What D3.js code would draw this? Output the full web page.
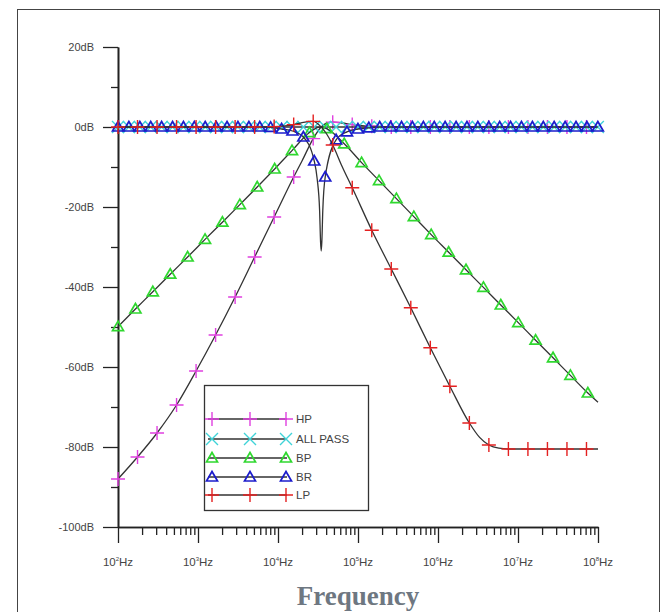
<!DOCTYPE html>
<html>
<head>
<meta charset="utf-8">
<script src="https://cdn.jsdelivr.net/npm/d3@7"></script>
<style>
  body { margin: 0; background: #fff; }
  svg { display: block; }
</style>
</head>
<body>
<svg id="chart" width="669" height="612"></svg>
<script>
// frequencies are stored as log10(Hz), magnitudes in dB

// HP and LP markers share the same frequency grid
var hlMarkF = [2.000, 2.244, 2.488, 2.732, 2.976, 3.220, 3.464, 3.708, 3.952, 4.196, 4.440, 4.684, 4.928,
               5.172, 5.416, 5.660, 5.904, 6.148, 6.392, 6.636, 6.880, 7.124, 7.368, 7.612, 7.856];
var hpMarkDb = [-88, -82.5, -76.5, -69.5, -61, -52, -42.5, -32.5, -22.5, -12.5, -2.9, 1.2, 0.6,
                0.2, 0, 0, 0, 0, 0, 0, 0, 0, 0, 0, 0];
var lpMarkDb = [0, 0, 0, 0, 0, 0, 0, 0, 0.1, 0.6, 1.4, -4.5, -15.2,
                -25.8, -35.5, -45.2, -55.2, -64.8, -74, -79.5, -80.5, -80.5, -80.5, -80.5, -80.5];
// extra points on the lines (between markers)
var hpExtra = [[4.30, -8.5], [4.54, 0], [4.60, 0.9], [4.80, 1.0], [8.0, 0]];
var lpExtra = [[4.30, 1.1], [4.54, 0], [4.60, -1.5], [4.80, -9.8], [6.52, -77.6], [6.76, -80.3], [8.0, -80.5]];

var bpMarkF = [2.000, 2.218, 2.435, 2.653, 2.870, 3.088, 3.305, 3.523, 3.740, 3.958, 4.175, 4.393, 4.610,
               4.828, 5.045, 5.263, 5.480, 5.698, 5.915, 6.133, 6.350, 6.568, 6.785, 7.003, 7.220, 7.438,
               7.655, 7.873];
var bpMarkDb = [-49.9, -45.5, -41.2, -36.8, -32.5, -28.1, -23.8, -19.4, -15.0, -10.5, -5.9, -1.4, -0.4,
                -4.2, -8.9, -13.4, -17.9, -22.4, -26.9, -31.3, -35.7, -40.1, -44.5, -48.9, -53.3, -57.7,
                -62.1, -66.5];
var bpExtra = [[4.50, -0.1], [4.54, 0], [8.0, -68.8]];

// BR and ALL PASS markers share the same frequency grid
var baMarkF = [2.000, 2.136, 2.273, 2.409, 2.545, 2.682, 2.818, 2.954, 3.090, 3.227, 3.363, 3.499, 3.636,
               3.772, 3.908, 4.045, 4.181, 4.317, 4.453, 4.590, 4.726, 4.862, 4.999, 5.135, 5.271, 5.408,
               5.544, 5.680, 5.817, 5.953, 6.089, 6.226, 6.362, 6.498, 6.635, 6.771, 6.907, 7.043, 7.180,
               7.316, 7.452, 7.589, 7.725, 7.861, 7.998];
var brMarkDb = [0, 0, 0, 0, 0, 0, 0, 0, 0, 0, 0, 0, 0,
                0, -0.1, -0.5, -1.0, -2.5, -8.5, -12.5, -3.2, -1.2, -0.5, -0.2, 0, 0,
                0, 0, 0, 0, 0, 0, 0, 0, 0, 0, 0, 0, 0,
                0, 0, 0, 0, 0, 0];
var apMarkDb = [0, 0, 0, 0, 0, 0, 0, 0, 0, 0, 0, 0, 0,
                0, 0, 0, 0, 0, 0, 0, 0, 0, 0, 0, 0, 0,
                0, 0, 0, 0, 0, 0, 0, 0, 0, 0, 0, 0, 0,
                0, 0, 0, 0, 0, 0];
var brExtra = [[4.49, -13], [4.52, -20.8], [4.532, -28.7], [4.54, -31], [4.548, -28.7], [4.56, -20.8]];
var apExtra = [];

var yTicks = [20, 0, -20, -40, -60, -80, -100];
var yMinorTicks = [10, -10, -30, -50, -70, -90];
var xDecades = [2, 3, 4, 5, 6, 7, 8];

var svg = d3.select("#chart");

// outer frame
svg.append("rect")
  .attr("x", 17.5).attr("y", 9.5)
  .attr("width", 642).attr("height", 640)
  .attr("fill", "none").attr("stroke", "#444").attr("stroke-width", 1);

var x = d3.scaleLog().domain([1e2, 1e8]).range([118, 598]);
var y = d3.scaleLinear().domain([20, -100]).range([47, 527]);

function zip(f, db){
  return f.map(function(v, i){ return [v, db[i]]; });
}

var series = [
  {name: "HP",       color: "#e040e0", shape: "plus",  marks: zip(hlMarkF, hpMarkDb), extra: hpExtra},
  {name: "ALL PASS", color: "#3fd3d8", shape: "cross", marks: zip(baMarkF, apMarkDb), extra: apExtra},
  {name: "BP",       color: "#2fd82f", shape: "tri",   marks: zip(bpMarkF, bpMarkDb), extra: bpExtra},
  {name: "BR",       color: "#1c1ccc", shape: "tri",   marks: zip(baMarkF, brMarkDb), extra: brExtra},
  {name: "LP",       color: "#e42020", shape: "plus",  marks: zip(hlMarkF, lpMarkDb), extra: lpExtra}
];

var shapes = {
  plus:  "M-7,0H7M0,-7V7",
  cross: "M-6,-6L6,6M-6,6L6,-6",
  tri:   "M0,-5.5L5.5,4H-5.5Z"
};

var line = d3.line()
  .x(function(d){ return x(Math.pow(10, d[0])); })
  .y(function(d){ return y(d[1]); })
  .curve(d3.curveMonotoneX);

// axes (minor and major ticks in separate groups)
var yAxis = d3.axisLeft(y).tickValues(yTicks).tickSize(15).tickSizeOuter(0).tickPadding(9)
  .tickFormat(function(d){ return d + "dB"; });
var yMinor = d3.axisLeft(y).tickValues(yMinorTicks).tickSize(7).tickSizeOuter(0).tickFormat("");

var minorVals = [];
xDecades.slice(0, -1).forEach(function(e){
  for (var m = 2; m <= 9; m++) minorVals.push(m * Math.pow(10, e));
});
var xAxis = d3.axisBottom(x).tickValues(xDecades.map(function(e){ return Math.pow(10, e); }))
  .tickSize(16).tickSizeOuter(0).tickFormat("");
var xMinor = d3.axisBottom(x).tickValues(minorVals).tickSize(8).tickSizeOuter(0).tickFormat("");

svg.append("g").attr("transform", "translate(118,0)").call(yMinor);
var gy = svg.append("g").attr("transform", "translate(118,0)").call(yAxis);
svg.append("g").attr("transform", "translate(0,527)").call(xMinor);
svg.append("g").attr("transform", "translate(0,527)").call(xAxis);

svg.selectAll(".domain").attr("stroke", "#222").attr("stroke-width", 1.6);
svg.selectAll(".tick line").attr("stroke", "#222").attr("stroke-width", 1.3);
gy.selectAll(".tick text")
  .attr("font-family", "Liberation Sans, Arial, sans-serif")
  .attr("font-size", 11).attr("fill", "#444");

// x tick labels with superscript exponent
var xl = svg.append("g").selectAll("text")
  .data(xDecades)
  .enter().append("text")
  .attr("x", function(e){ return x(Math.pow(10, e)); })
  .attr("y", 566)
  .attr("text-anchor", "middle")
  .attr("font-family", "Liberation Sans, Arial, sans-serif")
  .attr("font-size", 11.5)
  .attr("fill", "#444");
xl.append("tspan").text("10");
xl.append("tspan").attr("font-size", 6).attr("dy", -5).text(function(e){ return e; });
xl.append("tspan").attr("dy", 5).text("Hz");

// curves and markers
series.forEach(function(s){
  var pts = s.marks.concat(s.extra).sort(function(a, b){ return a[0] - b[0]; });
  svg.append("path")
    .attr("d", line(pts))
    .attr("fill", "none")
    .attr("stroke", "#333")
    .attr("stroke-width", 1.3);
  svg.append("g").selectAll("path")
    .data(s.marks)
    .enter().append("path")
    .attr("transform", function(d){ return "translate(" + x(Math.pow(10, d[0])) + "," + y(d[1]) + ")"; })
    .attr("d", shapes[s.shape])
    .attr("fill", "none")
    .attr("stroke", s.color)
    .attr("stroke-width", s.shape == "tri" ? 1.7 : 1.4);
});

// legend
var lg = svg.append("g");
lg.append("rect")
  .attr("x", 204.5).attr("y", 385.5).attr("width", 164).attr("height", 125)
  .attr("fill", "#fff").attr("stroke", "#333").attr("stroke-width", 1.3);
var lgY = [419, 439, 458, 477, 495];
series.forEach(function(s, i){
  var ly = lgY[i];
  lg.append("line")
    .attr("x1", 208).attr("x2", 287).attr("y1", ly).attr("y2", ly)
    .attr("stroke", "#333").attr("stroke-width", 1.3);
  [212, 250, 286].forEach(function(mx){
    lg.append("path")
      .attr("transform", "translate(" + mx + "," + ly + ")")
      .attr("d", shapes[s.shape])
      .attr("fill", "none")
      .attr("stroke", s.color)
      .attr("stroke-width", s.shape == "tri" ? 1.7 : 1.4);
  });
  lg.append("text")
    .attr("x", 296).attr("y", ly + 4)
    .attr("font-family", "Liberation Sans, Arial, sans-serif")
    .attr("font-size", 11.5)
    .attr("fill", "#444")
    .text(s.name);
});

// axis title
svg.append("text")
  .attr("x", 358).attr("y", 605)
  .attr("text-anchor", "middle")
  .attr("font-family", "Liberation Serif, Times New Roman, serif")
  .attr("font-weight", "bold")
  .attr("font-size", 27)
  .attr("fill", "#6e7781")
  .text("Frequency");
</script>
</body>
</html>
